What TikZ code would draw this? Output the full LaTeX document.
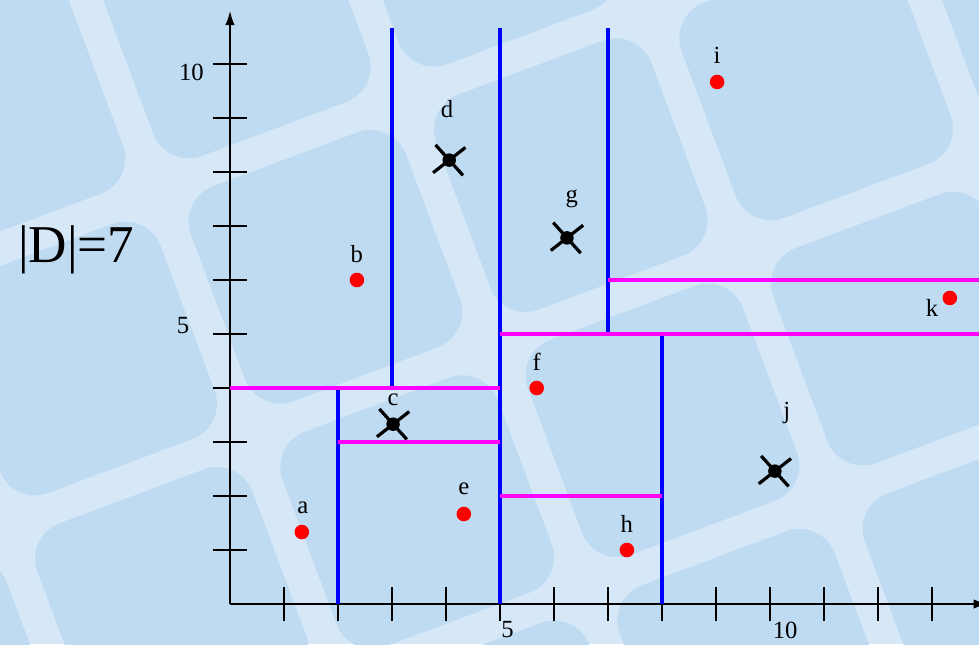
\documentclass[tikz,border=0pt]{standalone}
\usepackage{fontspec}
\setmainfont{Liberation Serif}
\usetikzlibrary{arrows.meta}
\definecolor{bgdark}{RGB}{191,219,242}
\definecolor{bglight}{RGB}{214,232,247}
\definecolor{pmag}{RGB}{255,0,255}
\definecolor{pblue}{RGB}{0,0,255}
\definecolor{pred}{RGB}{255,0,0}
\begin{document}
\begin{tikzpicture}[x=1cm,y=1cm,
  axis/.style={line width=1.5pt, black},
  tickmark/.style={line width=1.4pt, black},
  bline/.style={line width=1.7pt, pblue},
  mline/.style={line width=1.9pt, pmag},
  pt/.style={circle, fill=pred, inner sep=0pt, minimum size=0.27cm},
  xpt/.style={circle, fill=black, inner sep=0pt, minimum size=0.25cm},
  arm/.style={line width=1.7pt, black},
  lbl/.style={font=\fontsize{13}{15}\selectfont, anchor=base, inner sep=0pt},
  numlbl/.style={font=\fontsize{13}{15}\selectfont, anchor=center, inner sep=0pt}]
\useasboundingbox (-4.259,-0.741) rectangle (13.870,11.185);
\begin{scope}
\clip (-4.259,-0.741) rectangle (13.870,11.185);
% background pattern
\fill[bglight] (-4.259,-0.741) rectangle (13.870,11.185);
\begin{scope}[shift={(-1.352,7.667)}, rotate=20.5]
\foreach \m in {-4,...,5}{\foreach \n in {-5,...,4}{
  \fill[bgdark, rounded corners=0.7cm] ({\m*4.85+0.3},{\n*4.85+0.3}) rectangle ++(4.25,4.25);
}}
\end{scope}
% axes
\coordinate (O) at (0,0);
\coordinate (ytop) at (0,11.0);
\coordinate (xend) at (14.05,0);
\draw[axis,-{Latex[length=8pt,width=5pt]}] (O) -- (ytop);
\draw[axis,-{Latex[length=8pt,width=5pt]}] (O) -- (xend);
\foreach \i in {1,...,10}{\draw[tickmark] (-0.32,\i) -- (0.32,\i);}
\foreach \i in {1,...,13}{\draw[tickmark] (\i,-0.32) -- (\i,0.32);}
\node[numlbl] (y10) at (-0.713,9.84) {10};
\node[numlbl] (y5) at (-0.87,5.15) {5};
\node[numlbl] (x5) at (5.14,-0.48) {5};
\node[numlbl] (x10) at (10.28,-0.48) {10};
% partition lines
\draw[bline] (2,0) -- (2,4);
\draw[bline] (3,4) -- (3,10.67);
\draw[bline] (5,0) -- (5,10.67);
\draw[bline] (7,5) -- (7,10.67);
\draw[bline] (8,0) -- (8,5);
\draw[mline] (0,4) -- (5,4);
\draw[mline] (2,3) -- (5,3);
\draw[mline] (5,2) -- (8,2);
\draw[mline] (5,5) -- (14,5);
\draw[mline] (7,6) -- (14,6);
% points
\node[pt] (a) at (1.33,1.333) {};
\node[pt] (b) at (2.35,6.0) {};
\node[pt] (e) at (4.33,1.667) {};
\node[pt] (f) at (5.68,4.0) {};
\node[pt] (h) at (7.35,1.0) {};
\node[pt] (i) at (9.02,9.667) {};
\node[pt] (k) at (13.33,5.667) {};
\node[xpt] (c) at (3.02,3.33) {};
\node[xpt] (d) at (4.06,8.22) {};
\node[xpt] (g) at (6.24,6.78) {};
\node[xpt] (j) at (10.09,2.46) {};
\foreach \p in {c,d,g,j}{
  \draw[arm] ([shift={(132:0.38)}]\p.center) -- ([shift={(-48:0.38)}]\p.center);
  \draw[arm] ([shift={(218:0.38)}]\p.center) -- ([shift={(38:0.38)}]\p.center);
}
% labels
\node[lbl] (la) at (1.35,1.667) {a};
\node[lbl] (lb) at (2.35,6.333) {b};
\node[lbl] (lc) at (3.02,3.685) {c};
\node[lbl] (ld) at (4.02,9.0) {d};
\node[lbl] (le) at (4.33,2.02) {e};
\node[lbl] (lf) at (5.68,4.333) {f};
\node[lbl] (lg) at (6.33,7.44) {g};
\node[lbl] (lh) at (7.35,1.333) {h};
\node[lbl] (li) at (9.02,10.0) {i};
\node[lbl] (lj) at (10.31,3.43) {j};
\node[lbl] (lk) at (13.0,5.315) {k};
\node[anchor=base west, inner sep=0pt, font=\fontsize{28}{32}\selectfont] (size) at (-3.93,6.333) {|D|=7};
\end{scope}
\end{tikzpicture}
\end{document}
